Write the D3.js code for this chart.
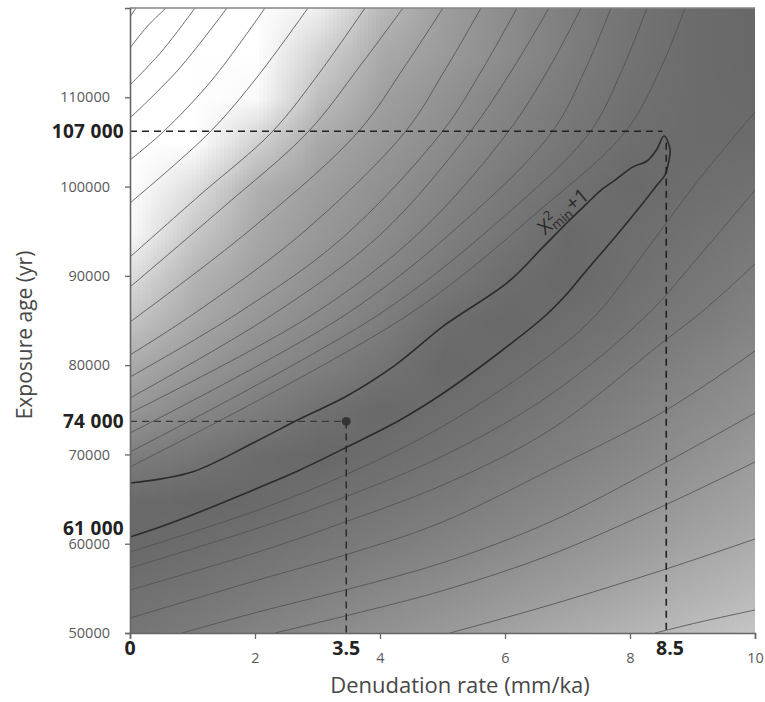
<!DOCTYPE html>
<html>
<head>
<meta charset="utf-8">
<script src="https://cdn.jsdelivr.net/npm/d3@7"></script>
<style>
  body { margin: 0; background: #fff; }
  text { font-family: "Open Sans", sans-serif; }
</style>
</head>
<body>
<script>
// axis ticks
var rateTicks = [0, 2, 4, 6, 8, 10];
var ageTicks = [50000, 60000, 70000, 80000, 90000, 100000, 110000];

// best fit point and max values (as drawn)
var bestRate = 3.46, bestAge = 73700;
var maxRate = 8.58, maxAge = 106200;
var minAgeAtZero = 61700;

// background misfit shading, grey level read at each node (rows = ages, top to bottom)
var shadeRates = [0, 1, 2, 3, 4, 5, 6, 7, 8, 9, 10];
var shadeAges = [120000, 115000, 110000, 105000, 100000, 95000, 90000, 85000, 80000, 75000, 70000, 65000, 60000, 55000, 50000];
var shade = [
  [255,255,255,238,185,158,140,126,116,108,104],
  [255,255,255,210,170,155,140,126,115,108,104],
  [255,255,250,190,160,146,133,122,113,108,106],
  [255,255,208,168,152,140,128,118,110,108,108],
  [255,222,176,158,145,133,122,113,106,110,114],
  [248,200,168,152,140,128,118,106,110,114,120],
  [220,180,160,145,133,122,110,105,112,118,126],
  [195,168,150,138,126,110,105,110,116,123,132],
  [170,152,138,128,116,105,110,116,123,131,140],
  [150,136,125,113,105,110,115,122,130,138,147],
  [126,118,108,104,110,115,121,128,136,145,155],
  [107,104,106,112,117,122,129,136,145,154,163],
  [105,109,114,119,125,131,138,146,155,164,173],
  [112,116,122,128,135,142,150,158,167,176,185],
  [118,124,131,138,146,154,163,172,181,190,198]
];

// contour lines above the valley [rate, age]
var upperLines = [
  [[0,118992],[0.096,120000]],
  [[0,115520],[0.27,117900],[0.576,120000]],
  [[0,111376],[0.512,115184],[1.04,120000]],
  [[0,107680],[0.768,113056],[1.552,120000]],
  [[0,102976],[0.528,106112],[1.312,111936],[2.16,120000]],
  [[0,98160],[1.28,106112],[2.048,112384],[2.848,120000]],
  [[0,92112],[1.12,99056],[2.272,106112],[3.04,112832],[3.76,120000]],
  [[0,88752],[1.44,97376],[2.848,106112],[3.68,113504],[4.368,120000]],
  [[0,84832],[1.92,95136],[3.648,106112],[4.4,113504],[5.008,120000]],
  [[0,81136],[0.992,85616],[2.72,94576],[4.4,106112],[5.04,113056],[5.616,120000]],
  [[0,78672],[1.68,85616],[3.36,94016],[4.992,106112],[5.632,113056],[6.192,120000]],
  [[0,76320],[2.272,85616],[4.0,94576],[5.44,106112],[6.112,113056],[6.704,120000]],
  [[0,74640],[2.912,85616],[4.64,94912],[6.048,106112],[6.688,113056],[7.216,120000]],
  [[0,72400],[3.44,85616],[5.28,95696],[6.752,106112],[7.28,113056],[7.696,120000]],
  [[0,70272],[3.968,85616],[5.92,96256],[7.36,106112],[7.872,113056],[8.272,120000]],
  [[0,68592],[4.448,85616],[6.56,97376],[7.92,106112],[8.48,113056],[8.88,120000]]
];

// contour lines below the valley
var lowerLines = [
  [[0,59072],[2.048,63776],[3.44,67696],[5.04,73296],[6.72,81136],[7.456,85616],[8.32,93456],[9.12,100960],[10,108352]],
  [[0,57280],[2.048,61760],[3.44,65232],[5.04,69936],[6.72,76656],[8.272,85616],[9.12,92336],[10,99616]],
  [[0,54816],[2.048,59072],[3.44,62432],[5.04,66688],[6.72,72736],[8.528,82592],[9.184,86176],[10,91328]],
  [[0,51680],[2.048,55936],[3.44,58736],[4.96,62320],[6.72,68256],[8.528,74752],[10,81584]],
  [[0.832,50000],[2.048,52352],[3.44,54816],[5.04,57952],[6.72,62432],[8.528,68928],[10,74640]],
  [[2.32,50000],[3.44,51904],[5.04,54816],[6.72,58736],[8.528,64224],[10,69152]],
  [[5.12,50000],[6.72,53136],[8.528,57056],[10,60528]],
  [[8.4,50000],[9.12,51232],[10,52576]]
];

// chi2 min + 1 contour: upper branch to the tip, then lower branch back
var chiUpper = [[0,66800],[0.992,68032],[2.0,71400],[2.72,74000],[3.44,76432],[4.24,79980],[5.04,84500],[6.048,89300],[6.592,93100],[7.0,96000],[7.296,98000],[7.52,99500],[7.776,100800],[8.048,102200],[8.272,102864],[8.432,104208],[8.544,105664]];
var chiLower = [[8.544,105664],[8.64,104208],[8.608,102416],[8.56,101296],[8.432,100176],[8.208,98160],[7.776,94464],[7.296,90544],[6.96,87744],[6.64,85504],[5.92,81472],[5.04,76992],[4.32,73856],[3.44,70720],[2.72,68256],[2.048,66240],[0.992,63216],[0.48,61872],[0,60752]];

var W = 765, H = 702;
var x = d3.scaleLinear().domain([0, 10]).range([130, 755]);
var y = d3.scaleLinear().domain([50000, 120000]).range([633, 8]);

var svg = d3.select("body").append("svg")
    .attr("width", W)
    .attr("height", H);

svg.append("clipPath").attr("id", "clip")
  .append("rect")
    .attr("x", x(0)).attr("y", y(120000))
    .attr("width", x(10) - x(0)).attr("height", y(50000) - y(120000));

var plot = svg.append("g").attr("clip-path", "url(#clip)");

// raster of the shading, smoothed when scaled up
var cv = document.createElement("canvas");
cv.width = shadeRates.length;
cv.height = shadeAges.length;
var ctx = cv.getContext("2d");
var im = ctx.createImageData(cv.width, cv.height);
shade.forEach(function(row, j) {
  row.forEach(function(v, i) {
    var k = (j * cv.width + i) * 4;
    im.data[k] = v; im.data[k + 1] = v; im.data[k + 2] = v; im.data[k + 3] = 255;
  });
});
ctx.putImageData(im, 0, 0);

var dRate = shadeRates[1] - shadeRates[0], dAge = shadeAges[0] - shadeAges[1];
plot.append("image")
    .attr("href", cv.toDataURL())
    .attr("preserveAspectRatio", "none")
    .attr("x", x(shadeRates[0] - dRate / 2))
    .attr("y", y(shadeAges[0] + dAge / 2))
    .attr("width", x(d3.max(shadeRates) + dRate / 2) - x(shadeRates[0] - dRate / 2))
    .attr("height", y(d3.min(shadeAges) - dAge / 2) - y(shadeAges[0] + dAge / 2));

var line = d3.line()
    .x(function(d) { return x(d[0]); })
    .y(function(d) { return y(d[1]); })
    .curve(d3.curveCatmullRom.alpha(0.5));

plot.selectAll("path.contour")
  .data(upperLines.concat(lowerLines))
  .enter().append("path")
    .attr("class", "contour")
    .attr("d", line)
    .attr("fill", "none")
    .attr("stroke", "#525252")
    .attr("stroke-width", 0.85);

plot.append("path")
    .attr("d", line(chiUpper.concat(chiLower.slice(1))))
    .attr("fill", "none")
    .attr("stroke", "#2b2b2b")
    .attr("stroke-width", 1.6);

// dashed guides
var dashed = [
  {pts: [[0, maxAge], [maxRate - 0.06, maxAge]], c: "#222", w: 1.6},
  {pts: [[maxRate, 104900], [maxRate, 50000]], c: "#222", w: 1.6},
  {pts: [[0, bestAge], [bestRate, bestAge]], c: "#3a3a3a", w: 1.3},
  {pts: [[bestRate, bestAge], [bestRate, 50000]], c: "#2a2a2a", w: 1.5}
];
plot.selectAll("path.guide")
  .data(dashed)
  .enter().append("path")
    .attr("class", "guide")
    .attr("d", function(d) { return d3.line().x(function(p) { return x(p[0]); }).y(function(p) { return y(p[1]); })(d.pts); })
    .attr("fill", "none")
    .attr("stroke", function(d) { return d.c; })
    .attr("stroke-width", function(d) { return d.w; })
    .attr("stroke-dasharray", "7,5");

plot.append("circle")
    .attr("cx", x(bestRate))
    .attr("cy", y(bestAge))
    .attr("r", 4.5)
    .attr("fill", "#333");

// chi2 label along the contour
var chi = plot.append("text")
    .attr("transform", "translate(" + x(6.64) + "," + y(94500) + ") rotate(-40)")
    .attr("fill", "#2a2a2a")
    .style("font-size", "20px");
chi.append("tspan").text("\u03A7");
chi.append("tspan").attr("dy", -9).style("font-size", "13px").text("2");
chi.append("tspan").attr("dx", -7).attr("dy", 12).style("font-size", "13px").text("min");
chi.append("tspan").attr("dx", 1).attr("dy", -3).text("+1");

// top border
svg.append("line")
    .attr("x1", x(0)).attr("x2", x(10))
    .attr("y1", y(120000)).attr("y2", y(120000))
    .attr("stroke", "#858585").attr("stroke-width", 1.5);

// axes
var xAxis = svg.append("g")
    .attr("transform", "translate(0," + y(50000) + ")")
    .call(d3.axisBottom(x).tickValues(rateTicks).tickSize(6).tickPadding(14)
      .tickFormat(function(d) { return d === 0 ? "" : d; }));
var yAxis = svg.append("g")
    .attr("transform", "translate(" + x(0) + ",0)")
    .call(d3.axisLeft(y).tickValues(ageTicks).tickSize(5).tickPadding(15).tickFormat(d3.format("d")));

[xAxis, yAxis].forEach(function(a) {
  a.select(".domain").attr("stroke", "#666").attr("stroke-width", 1.6);
  a.selectAll(".tick line").attr("stroke", "#666").attr("stroke-width", 1.3);
  a.selectAll(".tick text")
    .attr("fill", "#5a5a5a")
    .style("font-family", "'Open Sans', sans-serif")
    .style("font-size", "14.5px");
});

// bold value labels
var boldRates = [[0, "0"], [bestRate, "3.5"], [maxRate + 0.06, "8.5"]];
svg.selectAll("text.brate")
  .data(boldRates)
  .enter().append("text")
    .attr("class", "brate")
    .attr("x", function(d) { return x(d[0]); })
    .attr("y", 655)
    .attr("text-anchor", "middle")
    .attr("fill", "#222")
    .style("font-size", "19.5px")
    .style("font-weight", "700")
    .text(function(d) { return d[1]; });

var boldAges = [[maxAge, "107 000"], [bestAge, "74 000"], [minAgeAtZero, "61 000"]];
svg.selectAll("text.bage")
  .data(boldAges)
  .enter().append("text")
    .attr("class", "bage")
    .attr("x", 124)
    .attr("y", function(d) { return y(d[0]); })
    .attr("dy", "0.36em")
    .attr("text-anchor", "end")
    .attr("fill", "#222")
    .style("font-size", "19px")
    .style("font-weight", "700")
    .style("letter-spacing", "0.3px")
    .text(function(d) { return d[1]; });

// axis titles
svg.append("text")
    .attr("x", 460)
    .attr("y", 693)
    .attr("text-anchor", "middle")
    .attr("fill", "#474747")
    .style("font-size", "22px")
    .text("Denudation rate (mm/ka)");

svg.append("text")
    .attr("transform", "translate(32,335) rotate(-90)")
    .attr("text-anchor", "middle")
    .attr("fill", "#474747")
    .style("font-size", "21px")
    .text("Exposure age (yr)");
</script>
</body>
</html>
